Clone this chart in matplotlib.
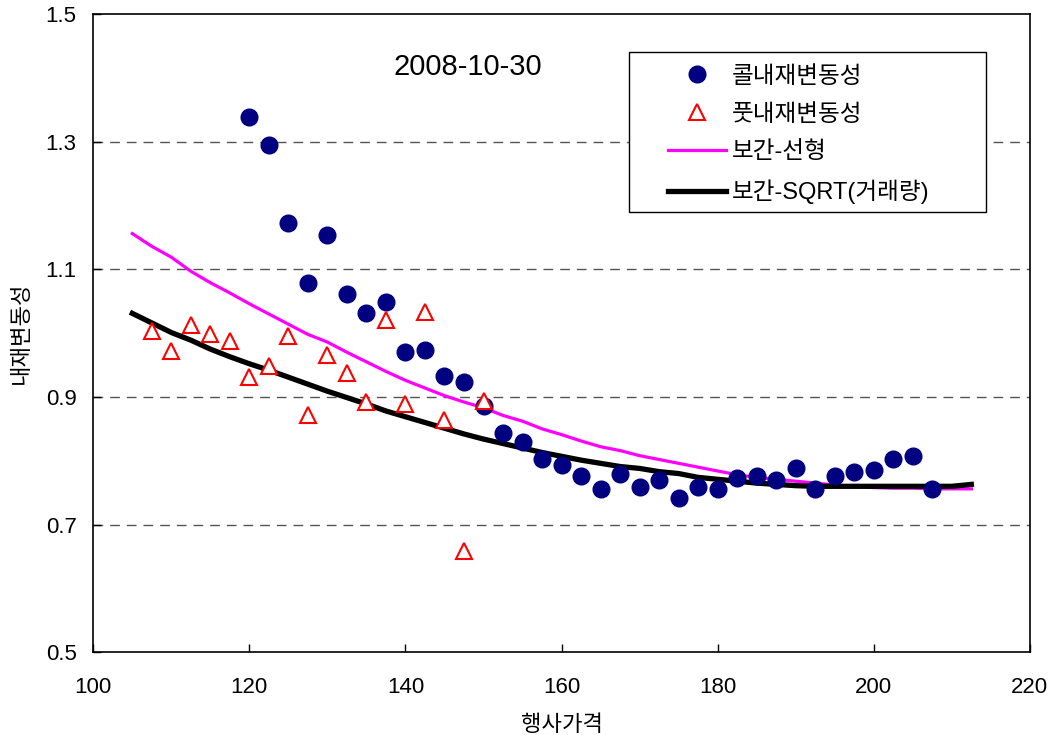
import numpy as np
import matplotlib
import matplotlib.pyplot as plt
from matplotlib.patches import Rectangle

matplotlib.use("Agg")

plt.rcParams["font.family"] = ["Liberation Sans", "Noto Sans CJK KR", "DejaVu Sans"]

# 콜 내재변동성 (circles)
call_strike = [120, 122.5, 125, 127.5, 130, 132.5, 135, 137.5, 140, 142.5, 145, 147.5,
               150, 152.5, 155, 157.5, 160, 162.5, 165, 167.5, 170, 172.5, 175, 177.5,
               180, 182.5, 185, 187.5, 190, 192.5, 195, 197.5, 200, 202.5, 205, 207.5]
call_iv = [1.338, 1.295, 1.173, 1.078, 1.153, 1.061, 1.031, 1.049, 0.971, 0.973, 0.933, 0.924,
           0.886, 0.843, 0.829, 0.803, 0.794, 0.776, 0.756, 0.780, 0.759, 0.770, 0.742, 0.759,
           0.756, 0.773, 0.776, 0.770, 0.788, 0.756, 0.776, 0.782, 0.785, 0.803, 0.808, 0.756]

# 풋 내재변동성 (triangles)
put_strike = [107.5, 110, 112.5, 115, 117.5, 120, 122.5, 125, 127.5, 130, 132.5, 135,
              137.5, 140, 142.5, 145, 147.5, 150]
put_iv = [1.004, 0.972, 1.012, 0.998, 0.987, 0.931, 0.949, 0.995, 0.872, 0.966, 0.937, 0.892,
          1.021, 0.889, 1.033, 0.864, 0.659, 0.893]

# interpolation curves
curve_strike = [105, 107.5, 110, 112.5, 115, 117.5, 120, 122.5, 125, 127.5, 130, 132.5,
                135, 137.5, 140, 142.5, 145, 147.5, 150, 152.5, 155, 157.5, 160, 162.5,
                165, 167.5, 170, 172.5, 175, 177.5, 180, 182.5, 185, 187.5, 190, 192.5,
                195, 197.5, 200, 202.5, 205, 207.5, 210, 212.5]
linear_iv = [1.156, 1.136, 1.119, 1.097, 1.079, 1.063, 1.046, 1.030, 1.014, 0.998, 0.986, 0.970,
             0.955, 0.940, 0.926, 0.914, 0.902, 0.892, 0.883, 0.871, 0.862, 0.850, 0.841, 0.831,
             0.822, 0.816, 0.808, 0.802, 0.796, 0.790, 0.784, 0.778, 0.774, 0.771, 0.768, 0.765,
             0.762, 0.760, 0.758, 0.757, 0.757, 0.756, 0.756, 0.756]
sqrt_iv = [1.031, 1.016, 1.001, 0.989, 0.975, 0.963, 0.952, 0.942, 0.931, 0.920, 0.909, 0.899,
           0.889, 0.878, 0.869, 0.860, 0.851, 0.842, 0.834, 0.827, 0.820, 0.813, 0.807, 0.801,
           0.796, 0.791, 0.788, 0.783, 0.780, 0.774, 0.771, 0.768, 0.765, 0.763, 0.761, 0.760,
           0.760, 0.760, 0.760, 0.760, 0.760, 0.760, 0.760, 0.763]

fig = plt.figure(figsize=(10.55, 7.35), dpi=100)
ax = fig.add_axes([0.0884, 0.1126, 0.8878, 0.8683])

ax.plot(call_strike, call_iv, linestyle="none", marker="o", markersize=12,
        color="#000080", label="콜내재변동성", zorder=3)
ax.plot(put_strike, put_iv, linestyle="none", marker="^", markersize=12,
        markerfacecolor="white", markeredgecolor="#ff0000", markeredgewidth=1.5,
        label="풋내재변동성", zorder=4)
ax.plot(curve_strike, linear_iv, color="#ff00ff", linewidth=2.3, label="보간-선형", zorder=2)
ax.plot(curve_strike, sqrt_iv, color="black", linewidth=3.8, label="보간-SQRT(거래량)", zorder=2)

ax.set_xlim(100, 220)
ax.set_ylim(0.5, 1.5)
ax.set_xticks(np.arange(100, 221, 20))
ax.set_yticks([0.5, 0.7, 0.9, 1.1, 1.3, 1.5])
ax.set_yticklabels(["0.5", "0.7", "0.9", "1.1", "1.3", "1.5"])
ax.tick_params(direction="in", length=6, width=1, labelsize=16)
ax.tick_params(axis="x", pad=18)
ax.tick_params(axis="y", pad=12)

for yv in [0.7, 0.9, 1.1, 1.3]:
    ax.axhline(yv, color="#555555", linestyle=(0, (7, 5)), linewidth=1, zorder=1)

for sp in ax.spines.values():
    sp.set_linewidth(1.2)

ax.set_xlabel("행사가격", fontsize=16, labelpad=12)
ax.set_ylabel("내재변동성", fontsize=16, labelpad=10)

ax.text(148, 1.417, "2008-10-30", fontsize=21, ha="center", va="center")

# legend frame drawn separately (wide side padding as in the original)
ax.add_patch(Rectangle((0.5719, 0.6903), 0.3811, 0.2497, transform=ax.transAxes,
                       facecolor="white", edgecolor="black", linewidth=1, zorder=5))
leg = ax.legend(loc="upper left", bbox_to_anchor=(0.6135, 0.919), fontsize=17,
                frameon=False, numpoints=1, handlelength=2.46, handletextpad=0.24,
                borderpad=0, labelspacing=0.67, borderaxespad=0)
leg.set_zorder(6)

fig.savefig("out.png", dpi=100)
